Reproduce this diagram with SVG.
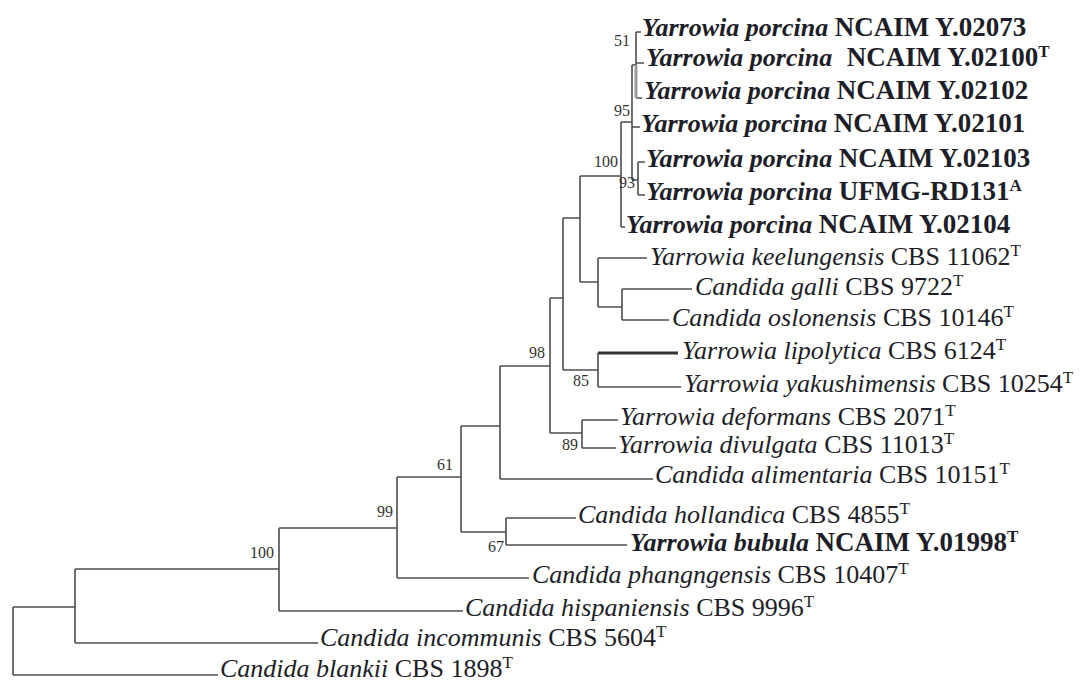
<svg xmlns="http://www.w3.org/2000/svg" width="1083" height="682" viewBox="0 0 1083 682">
<style>
.br{fill:none;stroke:#4d4d4d;stroke-width:1.6}
.thick{fill:none;stroke:#333;stroke-width:3}
.gray{fill:none;stroke:#9a9a9a;stroke-width:3}
.lab{font-family:"Liberation Serif","Times New Roman",serif;font-size:26px;fill:#1e1e28}
.b{font-weight:bold}
.i{font-style:italic}
.up{font-size:27px}
.sup{font-size:17px}
.bs{font-family:"Liberation Serif","Times New Roman",serif;font-size:16px;fill:#333;text-anchor:end}
</style>
<rect width="1083" height="682" fill="#fff"/>
<g id="connectors">
<path class="br" d="M13,607V675M13,607H75M13,675H218"/>
<path class="br" d="M75,569V643M75,569H279M75,643H318"/>
<path class="br" d="M279,528V611M279,528H397M279,611H463"/>
<path class="br" d="M397,477V578M397,477H461M397,578H529"/>
<path class="br" d="M461,426V532M461,426H500M461,532H506"/>
<path class="br" d="M506,518V545M506,518H576M506,545H627"/>
<path class="br" d="M500,366V479M500,366H550M500,479H653"/>
<path class="br" d="M550,298V433M550,298H563M550,433H582"/>
<path class="br" d="M582,420V448M582,420H618M582,448H616"/>
<path class="br" d="M563,218V370M563,218H580M563,370H598"/>
<path class="br" d="M598,353V387M598,387H681"/>
<path class="thick" d="M598,353H678"/>
<path class="br" d="M580,176V282M580,176H621M580,282H598"/>
<path class="br" d="M598,258V307M598,258H647M598,307H622"/>
<path class="br" d="M622,289V320M622,289H692M622,320H669"/>
<path class="br" d="M621,122V227M621,122H632M621,227H625"/>
<path class="br" d="M632,65V180M632,65H636M632,127H640M632,180H638"/>
<path class="br" d="M636,32V65M636,32H641M636,63H644M636,98H642"/>
<path class="gray" d="M636,65V98"/>
<path class="br" d="M638,162V195M638,162H645M638,195H645"/>
</g>
<g id="support">
<text class="bs" x="630" y="46" font-size="14">51</text>
<text class="bs" x="630" y="116">95</text>
<text class="bs" x="618" y="167">100</text>
<text class="bs" x="635" y="188" font-size="13">93</text>
<text class="bs" x="545" y="358">98</text>
<text class="bs" x="589" y="386">85</text>
<text class="bs" x="578" y="450">89</text>
<text class="bs" x="453" y="470">61</text>
<text class="bs" x="504" y="552">67</text>
<text class="bs" x="393" y="517">99</text>
<text class="bs" x="274" y="558">100</text>
</g>
<g id="n1"><text class="lab b" x="642" y="36"><tspan class="i">Yarrowia porcina</tspan> <tspan class="up">NCAIM Y.02073</tspan></text></g>
<g id="n2"><text class="lab b" x="646" y="66"><tspan class="i">Yarrowia porcina</tspan> <tspan class="up" dx="8">NCAIM Y.02100</tspan><tspan class="sup" dy="-9">T</tspan></text></g>
<g id="n3"><text class="lab b" x="644" y="99"><tspan class="i">Yarrowia porcina</tspan> <tspan class="up">NCAIM Y.02102</tspan></text></g>
<g id="n4"><text class="lab b" x="641" y="132"><tspan class="i">Yarrowia porcina</tspan> <tspan class="up">NCAIM Y.02101</tspan></text></g>
<g id="n5"><text class="lab b" x="646" y="167"><tspan class="i">Yarrowia porcina</tspan> <tspan class="up">NCAIM Y.02103</tspan></text></g>
<g id="n6"><text class="lab b" x="646" y="200"><tspan class="i">Yarrowia porcina</tspan> <tspan class="up">UFMG-RD131</tspan><tspan class="sup" dy="-9">A</tspan></text></g>
<g id="n7"><text class="lab b" x="626" y="233"><tspan class="i">Yarrowia porcina</tspan> <tspan class="up">NCAIM Y.02104</tspan></text></g>
<g id="n8"><text class="lab" x="650" y="265"><tspan class="i">Yarrowia keelungensis</tspan> CBS 11062<tspan class="sup" dy="-9">T</tspan></text></g>
<g id="n9"><text class="lab" x="695" y="295"><tspan class="i">Candida galli</tspan> CBS 9722<tspan class="sup" dy="-9">T</tspan></text></g>
<g id="n10"><text class="lab" x="672" y="326"><tspan class="i">Candida oslonensis</tspan> CBS 10146<tspan class="sup" dy="-9">T</tspan></text></g>
<g id="n11"><text class="lab" x="682" y="359"><tspan class="i">Yarrowia lipolytica</tspan> CBS 6124<tspan class="sup" dy="-9">T</tspan></text></g>
<g id="n12"><text class="lab" x="684" y="392"><tspan class="i">Yarrowia yakushimensis</tspan> CBS 10254<tspan class="sup" dy="-9">T</tspan></text></g>
<g id="n13"><text class="lab" x="620" y="425"><tspan class="i">Yarrowia deformans</tspan> CBS 2071<tspan class="sup" dy="-9">T</tspan></text></g>
<g id="n14"><text class="lab" x="618" y="453"><tspan class="i">Yarrowia divulgata</tspan> CBS 11013<tspan class="sup" dy="-9">T</tspan></text></g>
<g id="n15"><text class="lab" x="655" y="483"><tspan class="i">Candida alimentaria</tspan> CBS 10151<tspan class="sup" dy="-9">T</tspan></text></g>
<g id="n16"><text class="lab" x="578" y="523"><tspan class="i">Candida hollandica</tspan> CBS 4855<tspan class="sup" dy="-9">T</tspan></text></g>
<g id="n17"><text class="lab b" x="630" y="551"><tspan class="i">Yarrowia bubula</tspan> <tspan class="up">NCAIM Y.01998</tspan><tspan class="sup" dy="-9">T</tspan></text></g>
<g id="n18"><text class="lab" x="532" y="583"><tspan class="i">Candida phangngensis</tspan> CBS 10407<tspan class="sup" dy="-9">T</tspan></text></g>
<g id="n19"><text class="lab" x="465" y="616"><tspan class="i">Candida hispaniensis</tspan> CBS 9996<tspan class="sup" dy="-9">T</tspan></text></g>
<g id="n20"><text class="lab" x="320" y="646"><tspan class="i">Candida incommunis</tspan> CBS 5604<tspan class="sup" dy="-9">T</tspan></text></g>
<g id="n21"><text class="lab" x="220" y="677"><tspan class="i">Candida blankii</tspan> CBS 1898<tspan class="sup" dy="-9">T</tspan></text></g>
</svg>
